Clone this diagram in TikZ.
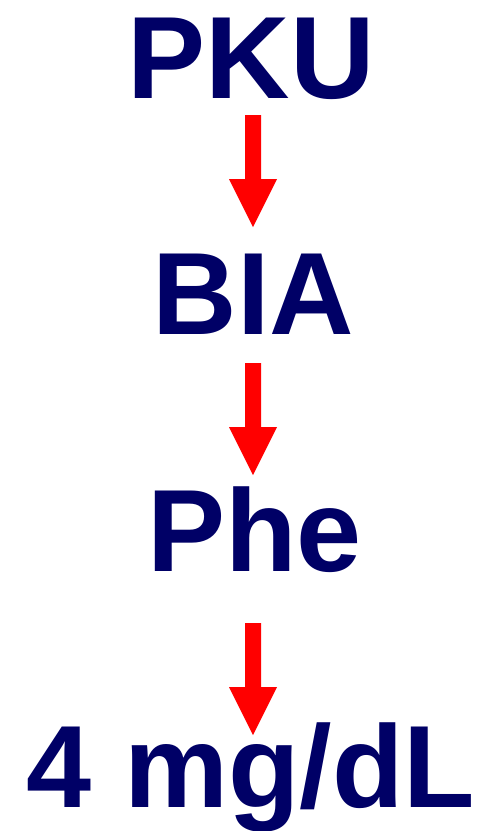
\documentclass[tikz,border=0pt]{standalone}
\usepackage{fontspec}
\setmainfont{Liberation Sans}
\definecolor{navytext}{RGB}{0,0,102}
\definecolor{arrowred}{RGB}{255,0,0}
\tikzset{
  bigword/.style={anchor=base, inner sep=0pt, text=navytext, font=\fontsize{117}{117}\selectfont\bfseries},
  arrowfill/.style={fill=arrowred}
}
\newcommand\downarrowshape[1]{%
  \fill[arrowfill, shift={(#1)}] (-8,0) -- (8,0) -- (8,64) -- (24,64) -- (0,112) -- (-24,64) -- (-8,64) -- cycle;}
\begin{document}
\begin{tikzpicture}[x=1pt,y=-1pt]
\useasboundingbox (0,0) rectangle (486,831);
\node[bigword] (pku) at (251,98) {PKU};
\node[bigword] (bia) at (253.5,334) {BIA};
\node[bigword] (phe) at (254.5,571) {Phe};
\node[bigword] (mg) at (251,807) {4 mg/dL};
\coordinate (a1) at (253,115);
\coordinate (a2) at (253,363);
\coordinate (a3) at (253,623);
\downarrowshape{a1}
\downarrowshape{a2}
\downarrowshape{a3}
\end{tikzpicture}
\end{document}
